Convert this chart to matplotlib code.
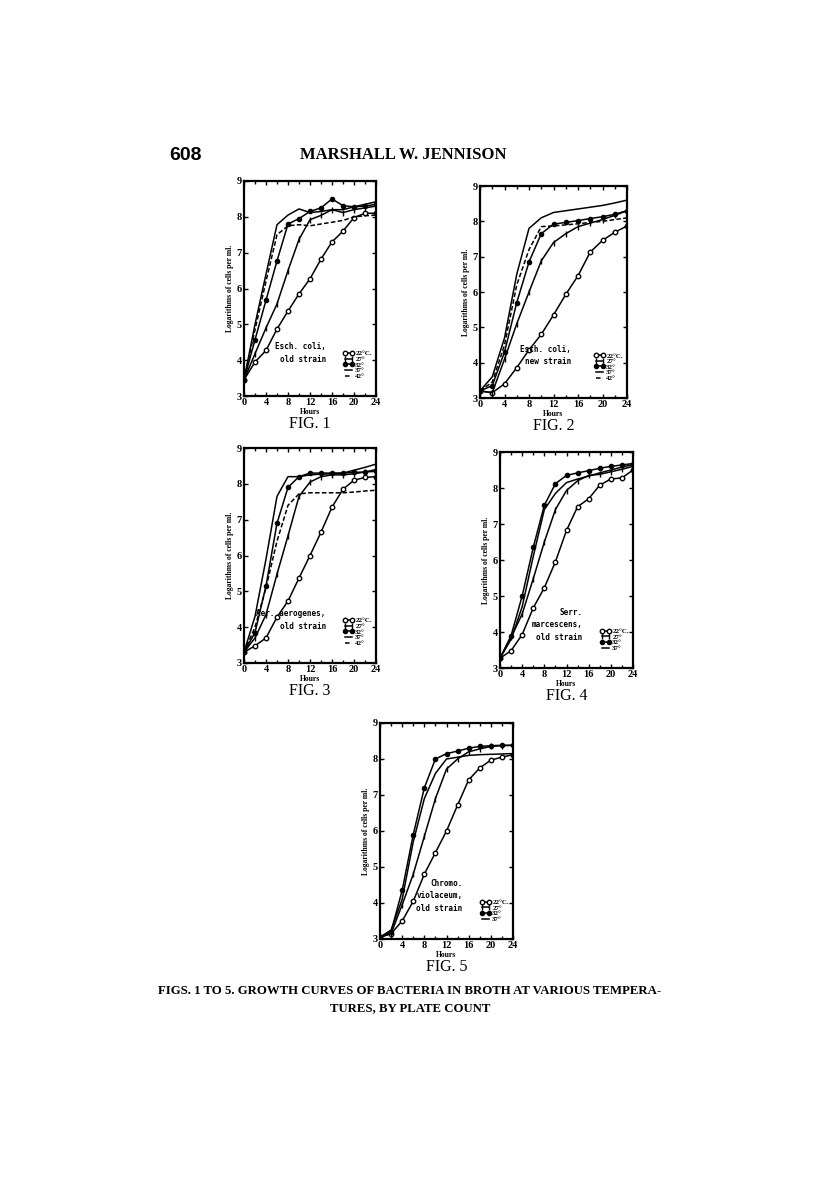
import matplotlib
matplotlib.use("Agg")
import matplotlib.pyplot as plt
from matplotlib.ticker import MultipleLocator

plt.rcParams['font.family'] = ['Liberation Serif', 'DejaVu Serif']

hours = [0, 2, 4, 6, 8, 10, 12, 14, 16, 18, 20, 22, 24]
temps = ["22°C.", "27°", "32°", "37°", "42°"]

# Fig 1 - Esch. coli, old strain
f1_22 = [3.45, 3.95, 4.27, 4.87, 5.37, 5.85, 6.27, 6.82, 7.3, 7.6, 7.98, 8.1, 8.1]
f1_27 = [3.45, 4.18, 4.9, 5.57, 6.5, 7.37, 7.92, 8.04, 8.2, 8.12, 8.2, 8.25, 8.3]
f1_32 = [3.45, 4.57, 5.67, 6.77, 7.8, 7.95, 8.15, 8.25, 8.5, 8.31, 8.28, 8.3, 8.35]
f1_37 = [3.45, 5.0, 6.4, 7.78, 8.05, 8.22, 8.12, 8.15, 8.2, 8.2, 8.28, 8.35, 8.42]
f1_42 = [3.45, 4.85, 6.2, 7.5, 7.75, 7.78, 7.75, 7.8, 7.85, 7.9, 8.0, 8.03, 8.05]

# Fig 2 - Esch. coli, new strain
f2_22 = [3.2, 3.15, 3.4, 3.86, 4.36, 4.8, 5.35, 5.93, 6.46, 7.13, 7.46, 7.69, 7.87]
f2_27 = [3.2, 3.15, 4.1, 5.1, 6.0, 6.88, 7.4, 7.65, 7.85, 7.95, 8.05, 8.17, 8.3]
f2_32 = [3.2, 3.35, 4.3, 5.7, 6.85, 7.65, 7.92, 7.97, 8.02, 8.08, 8.13, 8.2, 8.3]
f2_37 = [3.2, 3.6, 4.7, 6.5, 7.8, 8.1, 8.25, 8.3, 8.35, 8.4, 8.45, 8.52, 8.6]
f2_42 = [3.2, 3.45, 4.5, 6.2, 7.2, 7.85, 7.87, 7.9, 7.93, 7.97, 8.0, 8.05, 8.1]

# Fig 3 - Aer. aerogenes, old strain
f3_22 = [3.3, 3.48, 3.7, 4.28, 4.73, 5.37, 6.0, 6.65, 7.35, 7.85, 8.1, 8.18, 8.2]
f3_27 = [3.3, 3.7, 4.35, 5.48, 6.55, 7.65, 8.05, 8.2, 8.25, 8.25, 8.28, 8.33, 8.4]
f3_32 = [3.3, 3.85, 5.15, 6.9, 7.9, 8.2, 8.3, 8.3, 8.3, 8.3, 8.32, 8.33, 8.35]
f3_37 = [3.3, 4.3, 5.9, 7.65, 8.2, 8.2, 8.25, 8.27, 8.28, 8.3, 8.38, 8.46, 8.55]
f3_42 = [3.3, 4.0, 5.1, 6.4, 7.4, 7.72, 7.75, 7.75, 7.75, 7.75, 7.77, 7.8, 7.82]

# Fig 4 - Serr. marcescens, old strain
f4_22 = [3.27, 3.48, 3.93, 4.67, 5.23, 5.95, 6.82, 7.48, 7.7, 8.08, 8.25, 8.28, 8.5]
f4_27 = [3.27, 3.85, 4.5, 5.48, 6.5, 7.4, 7.93, 8.2, 8.35, 8.38, 8.45, 8.52, 8.6]
f4_32 = [3.27, 3.9, 5.0, 6.35, 7.52, 8.12, 8.35, 8.42, 8.48, 8.55, 8.6, 8.64, 8.68]
f4_37 = [3.27, 3.8, 4.7, 6.1, 7.4, 7.85, 8.15, 8.25, 8.33, 8.42, 8.5, 8.58, 8.65]

# Fig 5 - Chromo. violaceum, old strain
f5_22 = [3.05, 3.15, 3.5, 4.05, 4.8, 5.4, 6.0, 6.72, 7.42, 7.75, 7.97, 8.05, 8.12]
f5_27 = [3.05, 3.15, 3.95, 4.8, 5.85, 6.9, 7.72, 8.0, 8.2, 8.28, 8.35, 8.37, 8.38]
f5_32 = [3.05, 3.2, 4.35, 5.9, 7.2, 8.0, 8.15, 8.22, 8.3, 8.35, 8.37, 8.38, 8.38]
f5_37 = [3.05, 3.25, 4.1, 5.7, 6.9, 7.6, 8.0, 8.05, 8.1, 8.12, 8.13, 8.14, 8.15]

panels = [
    ("Esch. coli,\nold strain", [f1_22, f1_27, f1_32, f1_37, f1_42], "FIG. 1"),
    ("Esch. coli,\nnew strain", [f2_22, f2_27, f2_32, f2_37, f2_42], "FIG. 2"),
    ("Aer. aerogenes,\nold strain", [f3_22, f3_27, f3_32, f3_37, f3_42], "FIG. 3"),
    ("Serr.\nmarcescens,\nold strain", [f4_22, f4_27, f4_32, f4_37], "FIG. 4"),
    ("Chromo.\nviolaceum,\nold strain", [f5_22, f5_27, f5_32, f5_37], "FIG. 5"),
]

W, H = 816, 1189
boxes = [(244, 181, 376, 396), (480, 186, 627, 398), (244, 448, 376, 663),
         (500, 452, 633, 668), (380, 723, 513, 939)]

fig = plt.figure(figsize=(W / 100, H / 100), dpi=100)
fig.patch.set_facecolor("white")

styles = [
    dict(marker="o", mfc="white", mec="black", ms=3.2, ls="-"),
    dict(marker="|", mec="black", ms=4, mew=1.0, ls="-"),
    dict(marker="o", mfc="black", mec="black", ms=3.0, ls="-"),
    dict(marker=None, ls="-"),
    dict(marker=None, ls=(0, (3, 1.5))),
]

for (species, series, figlabel), (x0, y0, x1, y1) in zip(panels, boxes):
    ax = fig.add_axes([x0 / W, 1 - y1 / H, (x1 - x0) / W, (y1 - y0) / H])
    for vals, st, lab in zip(series, styles, temps):
        ax.plot(hours, vals, color="black", lw=1.1, label=lab, **st)
    ax.set_xlim(0, 24)
    ax.set_ylim(3, 9)
    ax.xaxis.set_major_locator(MultipleLocator(4))
    ax.xaxis.set_minor_locator(MultipleLocator(2))
    ax.yaxis.set_major_locator(MultipleLocator(1))
    ax.tick_params(which="both", direction="in", top=True, right=True, width=1.0)
    ax.tick_params(which="major", length=3, labelsize=7.5, pad=1.5)
    ax.tick_params(which="minor", length=2)
    for lbl in ax.get_xticklabels() + ax.get_yticklabels():
        lbl.set_fontweight("bold")
    for sp in ax.spines.values():
        sp.set_linewidth(1.6)
    ax.set_xlabel("Hours", fontsize=5.5, fontweight="bold", labelpad=1)
    ax.set_ylabel("Logarithms of cells per ml.", fontsize=5.5, fontweight="bold",
                  labelpad=2)
    ax.text(0.62, 0.2, species, transform=ax.transAxes, fontsize=5.5,
            fontweight="bold", ha="right", va="center", linespacing=1.5,
            family="DejaVu Sans Mono")
    leg = ax.legend(loc="lower right", bbox_to_anchor=(1.0, 0.06),
                    frameon=False, handlelength=1.6, handletextpad=0.2,
                    labelspacing=0.0, borderaxespad=0.2, numpoints=2,
                    handleheight=0.6, prop=dict(weight="bold", size=5.0))
    fig.text((x0 + x1) / 2 / W, 1 - (y1 + 28) / H, figlabel, ha="center",
             va="center", fontsize=11.5)

fig.text(186 / W, 1 - 155 / H, "608", ha="center", va="center", fontsize=14,
         fontweight="bold", family="Liberation Sans")
fig.text(403 / W, 1 - 155 / H, "MARSHALL W. JENNISON", ha="center", va="center",
         fontsize=12, fontweight="bold")
fig.text(410 / W, 1 - 991 / H,
         "FIGS. 1 TO 5. GROWTH CURVES OF BACTERIA IN BROTH AT VARIOUS TEMPERA-",
         ha="center", va="center", fontsize=9.2, fontweight="bold")
fig.text(410 / W, 1 - 1008 / H, "TURES, BY PLATE COUNT", ha="center", va="center",
         fontsize=9.2, fontweight="bold")

fig.savefig("out.png", dpi=100, facecolor="white")
